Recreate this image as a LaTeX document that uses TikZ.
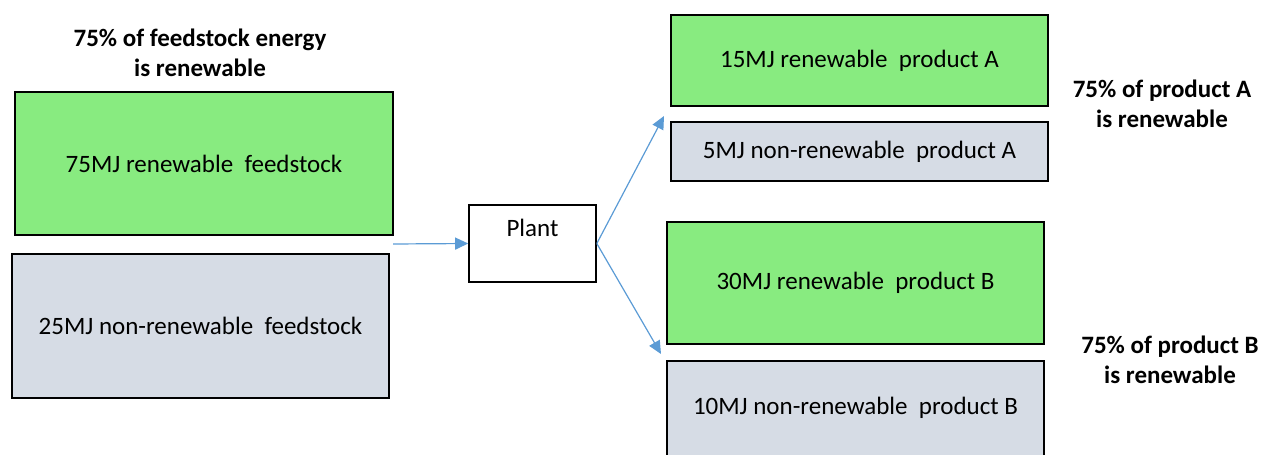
\documentclass[tikz,border=0pt]{standalone}
\usepackage{fontspec}
\setmainfont{Carlito}
\usetikzlibrary{arrows.meta,calc}
\definecolor{renew}{HTML}{88EB80}
\definecolor{nonrenew}{HTML}{D6DCE5}
\definecolor{flow}{HTML}{5B9BD5}
\begin{document}
\begin{tikzpicture}[x=1pt,y=-1pt,
  box/.style={draw=black, line width=1.6pt, inner sep=0pt, font=\fontsize{25}{30}\selectfont},
  renewbox/.style={box, fill=renew},
  nonbox/.style={box, fill=nonrenew},
  plainbox/.style={box, fill=white},
  heading/.style={align=center, inner sep=0pt, font=\fontsize{25}{30}\selectfont\bfseries},
  flowarrow/.style={draw=flow, line width=1.2pt, -{Triangle[length=13pt,width=12pt]}}]
\useasboundingbox (0,0) rectangle (1264,455);

% feedstock
\node[heading] (headF) at (200,53) {75\% of feedstock energy\\is renewable};
\node[renewbox, minimum width=378pt, minimum height=143pt] (feedR) at (204,163.5) {75MJ renewable\ \ feedstock};
\node[nonbox, minimum width=377pt, minimum height=144pt] (feedN) at (200.5,326) {25MJ non-renewable\ \ feedstock};

% plant
\node[plainbox, minimum width=127pt, minimum height=77pt,
  label={[name=plantT, yshift=15.5pt, font=\fontsize{25}{30}\selectfont]center:Plant}] (plant) at (532.5,243.5) {};

% product A
\node[renewbox, minimum width=377pt, minimum height=91pt] (prodAR) at (859.5,60.5) {15MJ renewable\ \ product A};
\node[nonbox, minimum width=377pt, minimum height=59pt] (prodAN) at (859.5,151.5) {5MJ non-renewable\ \ product A};
\node[heading] (headA) at (1162,103.5) {75\% of product A\\is renewable};

% product B
\node[renewbox, minimum width=377pt, minimum height=122pt] (prodBR) at (855.5,283) {30MJ renewable\ \ product B};
\node[nonbox, minimum width=377pt, minimum height=144pt,
  label={[name=prodBNT, yshift=25pt, font=\fontsize{25}{30}\selectfont]center:10MJ non-renewable\ \ product B}] (prodBN) at (855.5,433) {};
\node[heading] (headB) at (1170,359.5) {75\% of product B\\is renewable};

% connectors
\coordinate (feedOut) at (393,244);
\coordinate (tipA) at (664,116);
\coordinate (tipB) at (661,354);
\draw[flowarrow] (feedOut) -- (plant.west);
\draw[flowarrow] (plant.east) -- (tipA);
\draw[flowarrow] (plant.east) -- (tipB);
\end{tikzpicture}
\end{document}
